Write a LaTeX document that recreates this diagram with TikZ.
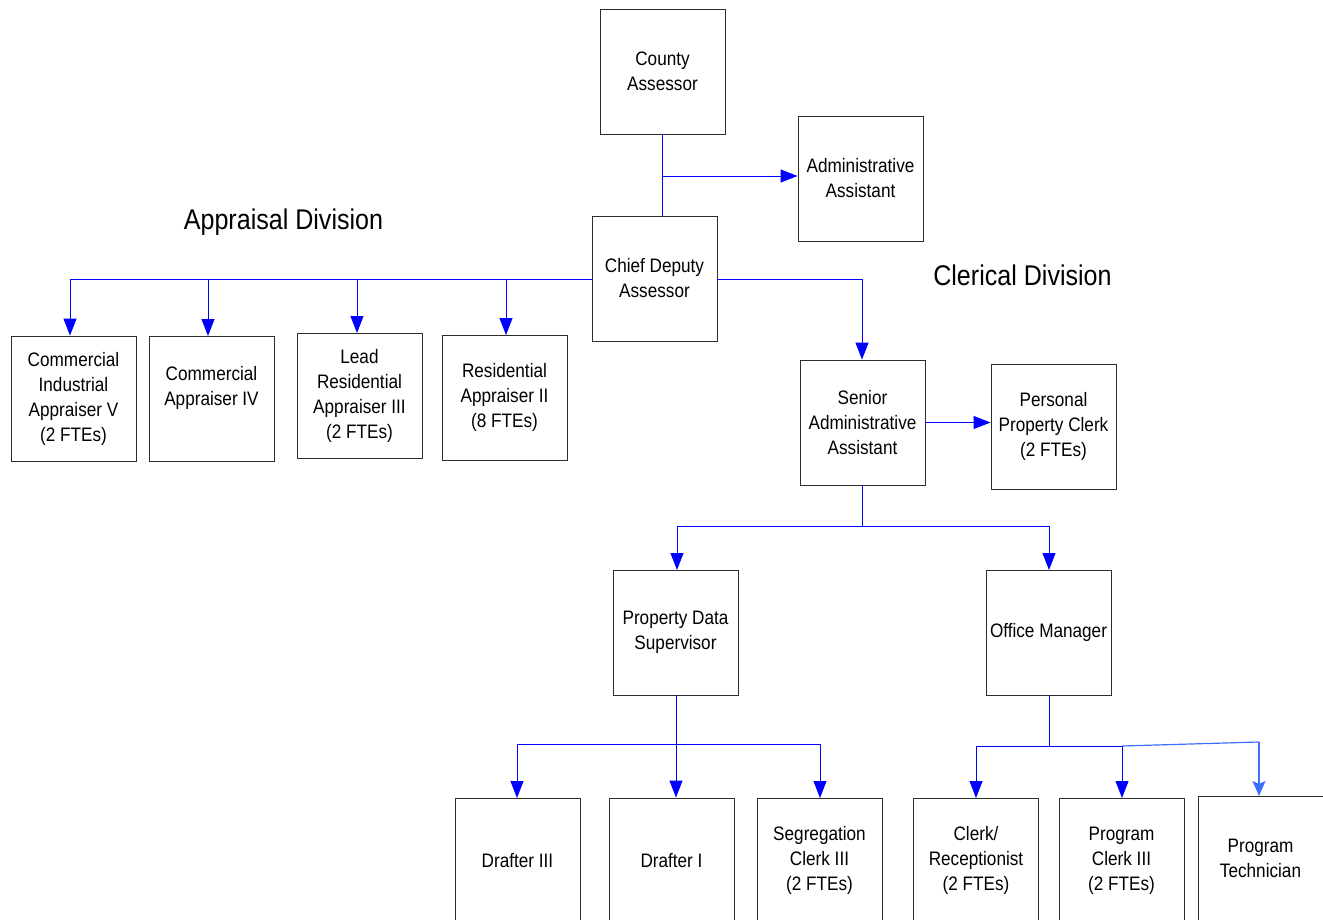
\documentclass[tikz,border=0pt]{standalone}
\usepackage{fontspec}
\setmainfont{Liberation Sans}[FakeStretch=0.88]
\usetikzlibrary{arrows.meta}
\definecolor{conn}{RGB}{0,0,255}
\definecolor{connlight}{RGB}{60,110,255}
\definecolor{boxline}{RGB}{45,45,45}
\begin{document}
\begin{tikzpicture}[x=1pt,y=-1pt,
  box/.style={draw=boxline,line width=0.9pt,minimum width=125pt,minimum height=125pt,
    inner sep=0pt,align=center,font=\fontsize{19.5}{25}\selectfont},
  title/.style={font=\fontsize{28.5}{32}\selectfont,inner sep=0pt},
  link/.style={draw=conn,line width=0.9pt},
  tip/.style={-{Triangle[length=17pt,width=13pt]}},
  arr/.style={link,tip}]
\useasboundingbox (0,0) rectangle (1323,920);

% boxes
\node[box] (ca)  at (662.5,71.5)  {County\\Assessor};
\node[box] (aa)  at (860.5,178.5) {Administrative\\Assistant};
\node[box] (cd)  at (654.5,278.5) {Chief Deputy\\Assessor};
\node[box] (cia) at (73.5,398.5)  {Commercial\\Industrial\\Appraiser V\\(2 FTEs)};
\node[box] (cap) at (211.5,398.5) {Commercial\\Appraiser IV\\\mbox{}};
\node[box] (lra) at (359.5,395.5) {Lead\\Residential\\Appraiser III\\(2 FTEs)};
\node[box] (ra)  at (504.5,397.5) {Residential\\Appraiser II\\(8 FTEs)};
\node[box] (sa)  at (862.5,422.5) {Senior\\Administrative\\Assistant};
\node[box] (ppc) at (1053.5,426.5) {Personal\\Property Clerk\\(2 FTEs)};
\node[box] (pds) at (675.5,632.5) {Property Data\\Supervisor};
\node[box] (om)  at (1048.5,632.5) {Office Manager};
\node[box] (d3)  at (517.5,860.5) {Drafter III};
\node[box] (d1)  at (671.5,860.5) {Drafter I};
\node[box] (sc)  at (819.5,860.5) {Segregation\\Clerk III\\(2 FTEs)};
\node[box] (cr)  at (976,860.5)   {Clerk/\\Receptionist\\(2 FTEs)};
\node[box] (pc)  at (1121.5,860.5) {Program\\Clerk III\\(2 FTEs)};
\node[box] (pt)  at (1260.5,858.5) {Program\\Technician};

% titles
\node[title] (tapp) at (283.5,222) {Appraisal Division};
\node[title] (tcl)  at (1022.5,275) {Clerical Division};

% County Assessor -> Chief Deputy / Admin Assistant
\coordinate (j1) at (662,176);
\draw[link] (ca.south -| j1) -- (j1 |- cd.north);
\draw[arr] (j1) -- (j1 -| aa.west);

% Chief Deputy -> Appraisal
\coordinate (jl) at (70,279);
\draw[link] (cd.west |- jl) -- (jl);
\draw[arr] (jl) -- (jl |- cia.north);
\draw[arr] (208,279) -- (208,336) coordinate (cap-in);
\draw[arr] (357,279) -- (357,333) coordinate (lra-in);
\draw[arr] (506,279) -- (506,335) coordinate (ra-in);

% Chief Deputy -> Senior Admin
\coordinate (jr) at (862,279);
\draw[link] (cd.east |- jr) -- (jr);
\draw[arr] (jr) -- (jr |- sa.north);

% Senior Admin -> Personal Property
\draw[arr] (sa.east) -- (sa.east -| ppc.west);

% Senior Admin -> PDS / OM
\coordinate (js) at (862,526);
\draw[link] (sa.south -| js) -- (js);
\draw[link] (677,526) -- (1049,526);
\draw[arr] (677,526) -- (677,570);
\draw[arr] (1049,526) -- (1049,570);

% PDS -> drafters
\coordinate (jp) at (676,744);
\draw[arr] (pds.south -| jp) -- (jp |- d1.north);
\draw[link] (517,744) -- (820,744);
\draw[arr] (517,744) -- (517,798);
\draw[arr] (820,744) -- (820,798);

% OM -> clerks
\coordinate (jo) at (1049,746);
\draw[link] (om.south -| jo) -- (jo);
\draw[link] (976,746) -- (1122,746);
\draw[arr] (976,746) -- (976,798);
\draw[arr] (1122,746) -- (1122,798);
\draw[draw=connlight,line width=1.2pt] (1122,746) -- (1259,742);
\draw[draw=connlight,line width=1.2pt,-{Stealth[length=15pt,width=13pt,inset=3pt]}] (1259,742) -- (1259,796);
\end{tikzpicture}
\end{document}
